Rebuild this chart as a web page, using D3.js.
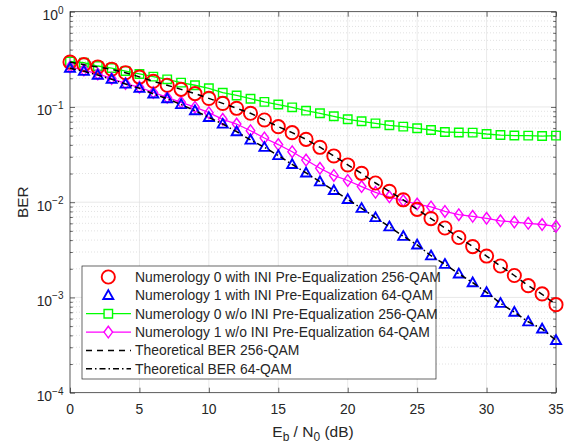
<!DOCTYPE html>
<html><head><meta charset="utf-8">
<script src="https://cdn.jsdelivr.net/npm/d3@7"></script>
<style>body{margin:0;background:#fff}svg{display:block}text{font-family:"Liberation Sans",Arial,sans-serif;fill:#262626}</style>
</head><body>
<svg id="c" width="574" height="447"></svg>
<script>
const ebn0 = [0,1,2,3,4,5,6,7,8,9,10,11,12,13,14,15,16,17,18,19,20,21,22,23,24,25,26,27,28,29,30,31,32,33,34,35];
const num0WithPre = [0.296,0.278,0.263,0.249,0.229,0.206,0.186,0.169,0.153,0.138,0.123,0.109,0.0968,0.0858,0.0730,0.0621,0.0537,0.0457,0.0377,0.0306,0.0246,0.0201,0.0159,0.0130,0.0106,0.00841,0.00673,0.00536,0.00426,0.00342,0.00272,0.00214,0.00170,0.00133,0.00109,0.00084];
const num1WithPre = [0.255,0.237,0.216,0.195,0.174,0.157,0.137,0.122,0.106,0.0914,0.0778,0.0662,0.0550,0.0450,0.0377,0.0309,0.0249,0.0203,0.0164,0.0133,0.0107,0.00863,0.00690,0.00552,0.00439,0.00356,0.00274,0.00223,0.00177,0.00143,0.00113,0.000869,0.000700,0.000556,0.000467,0.000354];
const num0NoPre = [0.300,0.291,0.269,0.256,0.238,0.222,0.208,0.195,0.180,0.169,0.157,0.141,0.132,0.122,0.113,0.106,0.0991,0.0914,0.0858,0.0798,0.0742,0.0707,0.0673,0.0642,0.0621,0.0597,0.0573,0.0546,0.0540,0.0538,0.0520,0.0507,0.0501,0.0500,0.0495,0.0500];
const num1NoPre = [0.263,0.244,0.222,0.199,0.176,0.161,0.142,0.126,0.112,0.0994,0.0870,0.0742,0.0662,0.0563,0.0472,0.0403,0.0339,0.0277,0.0227,0.0191,0.0169,0.0146,0.0127,0.0114,0.0104,0.00957,0.00891,0.00800,0.00739,0.00711,0.00678,0.00638,0.00619,0.00600,0.00583,0.00558];
const theory256 = [0.296,0.278,0.263,0.248,0.229,0.207,0.186,0.169,0.153,0.138,0.123,0.109,0.0968,0.0858,0.0732,0.0621,0.0537,0.0457,0.0378,0.0306,0.0247,0.0200,0.0159,0.0130,0.0106,0.00841,0.00673,0.00536,0.00426,0.00342,0.00272,0.00214,0.00170,0.00133,0.00108,0.00084];
const theory64 = [0.255,0.237,0.216,0.195,0.174,0.157,0.137,0.122,0.106,0.0914,0.0778,0.0662,0.0550,0.0450,0.0377,0.0309,0.0249,0.0203,0.0164,0.0133,0.0107,0.00863,0.00690,0.00552,0.00439,0.00356,0.00274,0.00223,0.00177,0.00143,0.00113,0.000869,0.000700,0.000556,0.000467,0.000354];
const xTicks = [0,5,10,15,20,25,30,35];
const yTickExps = [0,-1,-2,-3,-4];
const legendLabels = [
  "Numerology 0 with INI Pre-Equalization 256-QAM",
  "Numerology 1 with INI Pre-Equalization 64-QAM",
  "Numerology 0 w/o INI Pre-Equalization 256-QAM",
  "Numerology 1 w/o INI Pre-Equalization 64-QAM",
  "Theoretical BER 256-QAM",
  "Theoretical BER 64-QAM"
];

const svg = d3.select("#c");
const L = 70, R = 556, T = 11.7, B = 392.7;
const x = d3.scaleLinear().domain([0,35]).range([L,R]);
const y = d3.scaleLog().domain([1e-4,1]).range([B,T]);
const axisCol = "#262626";
const FS = "13.9px";

// grid
const g = svg.append("g");
const minorVals = [];
for (let e=-4;e<0;e++) for (let m=2;m<=9;m++) minorVals.push(m*Math.pow(10,e));
g.selectAll(".mg").data(minorVals).enter().append("line")
  .attr("x1",L).attr("x2",R).attr("y1",d=>y(d)).attr("y2",d=>y(d))
  .attr("stroke","#cfcfcf").attr("stroke-width",0.6).attr("stroke-dasharray","1,2");
g.selectAll(".gx").data(xTicks).enter().append("line")
  .attr("x1",d=>x(d)).attr("x2",d=>x(d)).attr("y1",T).attr("y2",B)
  .attr("stroke","#dfdfdf").attr("stroke-width",0.7);
g.selectAll(".gy").data(yTickExps).enter().append("line")
  .attr("x1",L).attr("x2",R).attr("y1",d=>y(Math.pow(10,d))).attr("y2",d=>y(Math.pow(10,d)))
  .attr("stroke","#dfdfdf").attr("stroke-width",0.7);

// axes via d3 axis (inward ticks)
const xAxisB = d3.axisBottom(x).tickValues(xTicks).tickSizeInner(-5).tickSizeOuter(0).tickFormat("");
const xAxisT = d3.axisTop(x).tickValues(xTicks).tickSizeInner(-5).tickSizeOuter(0).tickFormat("");
svg.append("g").attr("transform",`translate(0,${B})`).call(xAxisB);
svg.append("g").attr("transform",`translate(0,${T})`).call(xAxisT);
const majorY = yTickExps.map(e=>Math.pow(10,e));
const yAxisL = d3.axisLeft(y).tickValues(majorY).tickSizeInner(-5).tickSizeOuter(0).tickFormat("");
const yAxisR = d3.axisRight(y).tickValues(majorY).tickSizeInner(-5).tickSizeOuter(0).tickFormat("");
const yAxisLm = d3.axisLeft(y).tickValues(minorVals).tickSizeInner(-2.8).tickSizeOuter(0).tickFormat("");
const yAxisRm = d3.axisRight(y).tickValues(minorVals).tickSizeInner(-2.8).tickSizeOuter(0).tickFormat("");
svg.append("g").attr("transform",`translate(${L},0)`).call(yAxisL);
svg.append("g").attr("transform",`translate(${R},0)`).call(yAxisR);
svg.append("g").attr("transform",`translate(${L},0)`).call(yAxisLm);
svg.append("g").attr("transform",`translate(${R},0)`).call(yAxisRm);
svg.selectAll(".domain").remove();
svg.selectAll(".tick line").attr("stroke",axisCol).attr("stroke-width",0.7);
svg.append("rect").attr("x",L).attr("y",T).attr("width",R-L).attr("height",B-T)
  .attr("fill","none").attr("stroke",axisCol).attr("stroke-width",0.7);

// tick labels
svg.append("g").selectAll("text").data(xTicks).enter().append("text")
  .attr("x",d=>x(d)).attr("y",B+21.5).attr("text-anchor","middle").attr("font-size",FS).text(d=>d);
const yl = svg.append("g").selectAll("text").data(yTickExps).enter().append("text")
  .attr("x",L-6.5).attr("y",d=>y(Math.pow(10,d))+8.3).attr("text-anchor","end").attr("font-size",FS);
yl.append("tspan").text("10");
yl.append("tspan").attr("dy",-6.5).attr("font-size","10px").text(d=>d===0?"0":"\u2212"+(-d));

// axis labels
svg.append("text").attr("transform",`translate(28,${(T+B)/2}) rotate(-90)`).attr("text-anchor","middle")
  .attr("font-size","15.3px").text("BER");
const xl = svg.append("text").attr("x",(L+R)/2).attr("y",436.5).attr("text-anchor","middle").attr("font-size","15.5px");
xl.append("tspan").text("E");
xl.append("tspan").attr("dy",4.5).attr("font-size","12px").text("b");
xl.append("tspan").attr("dy",-4.5).text(" / N");
xl.append("tspan").attr("dy",4.5).attr("font-size","12px").text("0");
xl.append("tspan").attr("dy",-4.5).text(" (dB)");

// series
const plot = svg.append("g");
const line = d3.line().x(d=>x(d[0])).y(d=>y(d[1]));
const zip = arr => ebn0.map((e,i)=>[e,arr[i]]);

const RED="#ff0000", BLUE="#0000ff", GREEN="#00ff00", MAG="#ff00ff";
const squarePath = d3.symbol().type(d3.symbolSquare).size(72)();
const diamondPath = "M0,-5.8L4.3,0L0,5.8L-4.3,0Z";
const triPath = "M0,-5.2L5,3.6L-5,3.6Z";

// green
plot.append("path").datum(zip(num0NoPre)).attr("d",line).attr("fill","none").attr("stroke",GREEN).attr("stroke-width",1.3);
plot.selectAll(".gs").data(zip(num0NoPre)).enter().append("path").attr("d",squarePath)
  .attr("transform",d=>`translate(${x(d[0])},${y(d[1])})`).attr("fill","none").attr("stroke",GREEN).attr("stroke-width",1.4);
// magenta
plot.append("path").datum(zip(num1NoPre)).attr("d",line).attr("fill","none").attr("stroke",MAG).attr("stroke-width",1.3);
plot.selectAll(".md").data(zip(num1NoPre)).enter().append("path").attr("d",diamondPath)
  .attr("transform",d=>`translate(${x(d[0])},${y(d[1])})`).attr("fill","none").attr("stroke",MAG).attr("stroke-width",1.4);
// red circles
plot.selectAll(".rc").data(zip(num0WithPre)).enter().append("circle")
  .attr("cx",d=>x(d[0])).attr("cy",d=>y(d[1])).attr("r",6.6).attr("fill","none").attr("stroke",RED).attr("stroke-width",1.9);
// blue triangles
plot.selectAll(".bt").data(zip(num1WithPre)).enter().append("path").attr("d",triPath)
  .attr("transform",d=>`translate(${x(d[0])},${y(d[1])})`).attr("fill","none").attr("stroke",BLUE).attr("stroke-width",1.9);
// theory lines
plot.append("path").datum(zip(theory256)).attr("d",line).attr("fill","none").attr("stroke","#000").attr("stroke-width",1.5).attr("stroke-dasharray","6,5");
plot.append("path").datum(zip(theory64)).attr("d",line).attr("fill","none").attr("stroke","#000").attr("stroke-width",1.5).attr("stroke-dasharray","6,3,1.5,3");

// legend
const lg = svg.append("g");
lg.append("rect").attr("x",82).attr("y",266).attr("width",354).attr("height",113).attr("fill","#fff").attr("stroke",axisCol).attr("stroke-width",0.7);
const rowY = i => 277 + i*18.35;
const sx = 108.3, lx1 = 86, lx2 = 131;
legendLabels.forEach((t,i)=>{
  lg.append("text").attr("x",135).attr("y",rowY(i)+5).attr("font-size",FS).text(t);
});
lg.append("circle").attr("cx",sx).attr("cy",rowY(0)).attr("r",6.6).attr("fill","none").attr("stroke",RED).attr("stroke-width",1.9);
lg.append("path").attr("d",triPath).attr("transform",`translate(${sx},${rowY(1)})`).attr("fill","none").attr("stroke",BLUE).attr("stroke-width",1.9);
lg.append("line").attr("x1",lx1).attr("x2",lx2).attr("y1",rowY(2)).attr("y2",rowY(2)).attr("stroke",GREEN).attr("stroke-width",1.3);
lg.append("path").attr("d",squarePath).attr("transform",`translate(${sx},${rowY(2)})`).attr("fill","#fff").attr("stroke",GREEN).attr("stroke-width",1.4);
lg.append("line").attr("x1",lx1).attr("x2",lx2).attr("y1",rowY(3)).attr("y2",rowY(3)).attr("stroke",MAG).attr("stroke-width",1.3);
lg.append("path").attr("d",diamondPath).attr("transform",`translate(${sx},${rowY(3)})`).attr("fill","#fff").attr("stroke",MAG).attr("stroke-width",1.4);
lg.append("line").attr("x1",lx1).attr("x2",lx2).attr("y1",rowY(4)).attr("y2",rowY(4)).attr("stroke","#000").attr("stroke-width",1.5).attr("stroke-dasharray","6,5");
lg.append("line").attr("x1",lx1).attr("x2",lx2).attr("y1",rowY(5)).attr("y2",rowY(5)).attr("stroke","#000").attr("stroke-width",1.5).attr("stroke-dasharray","6,3,1.5,3");
</script>
</body></html>
